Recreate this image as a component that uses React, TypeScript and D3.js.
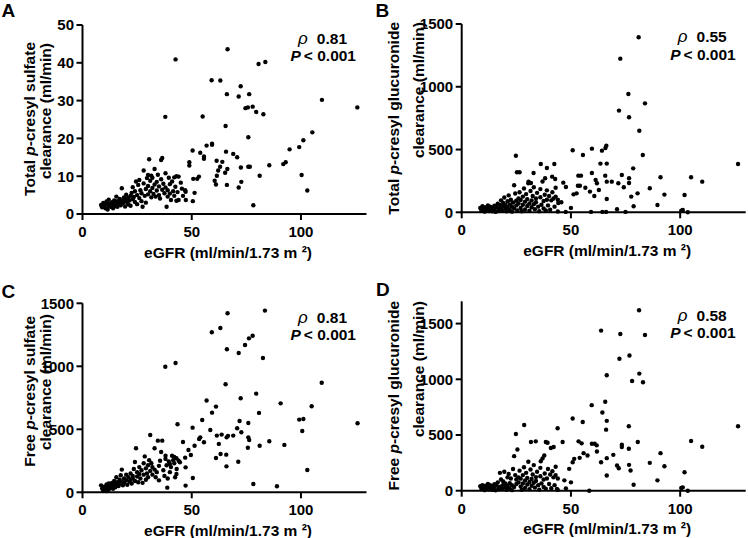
import React from "react";
import * as d3 from "d3";

// ---------- DATA ----------
const xTicks = [0, 50, 100];
const yTicksA = [0, 10, 20, 30, 40, 50];
const yTicksBCD = [0, 500, 1000, 1500];
const panelLetters = ["A", "B", "C", "D"];
const yTitles1 = ["Total p-cresyl sulfate", "Total p-cresyl glucuronide", "Free p-cresyl sulfate", "Free p-cresyl glucuronide"];
const rhoValues = ["0.81", "0.55", "0.81", "0.58"];
const pText = "< 0.001";
const xTitle = "eGFR (ml/min/1.73 m ²)";
const yTitle2 = "clearance (ml/min)";

// eGFR vs clearance pairs [eGFR, clearance]
const pointsA: [number, number][] = [
  [42.6, 40.9], [66.4, 43.6], [80.6, 39.7], [83.7, 40.2], [37.9, 25.7], [59.1, 35.4], [63.1, 35.3], [66.1, 31.7],
  [72.4, 33.8], [71.5, 31.1], [76.3, 31.7], [74.6, 28.0], [75.7, 28.2], [77.9, 28.4], [79.5, 27.0], [82.8, 26.4],
  [109.6, 30.2], [125.8, 28.2], [75.9, 20.3], [65.5, 23.3], [55.0, 25.8], [105.2, 21.6], [101.1, 19.5], [99.2, 17.7],
  [94.8, 17.1], [93.0, 13.7], [91.9, 13.2], [85.5, 12.9], [100.3, 10.3], [102.9, 6.2], [78.2, 2.3], [81.1, 10.1],
  [75.9, 12.5], [76.6, 12.5], [72.5, 12.3], [72.7, 8.5], [71.5, 7.0], [69.0, 15.9], [70.8, 15.0], [65.7, 16.5],
  [66.3, 11.9], [65.3, 10.9], [66.1, 7.7], [61.1, 7.8], [60.5, 8.8], [61.5, 10.1], [62.1, 11.5], [63.0, 12.5],
  [64.0, 13.8], [61.4, 14.1], [59.3, 18.3], [59.3, 18.6], [56.8, 18.1], [55.6, 15.2], [55.6, 14.6], [53.9, 16.2],
  [50.4, 16.8], [48.9, 13.7], [48.9, 12.8], [53.3, 9.9], [52.5, 9.3], [50.7, 9.3], [51.3, 5.6], [50.5, 3.4],
  [47.3, 3.7], [47.2, 5.9], [47.0, 6.3],
  [8.5, 2.4], [9, 1.8], [9.5, 2.9], [10, 2.2], [10.5, 1.5], [11, 3.3], [11, 2.6], [11.5, 1.2], [12, 2.0], [12, 3.8],
  [12.5, 2.7], [13, 1.9], [13.5, 3.1], [14, 2.4], [14, 1.5], [14.5, 3.6], [15, 2.9], [15, 2.1],
  [15.5, 4.6], [16, 3.4], [16, 1.9], [16.5, 2.7], [17, 4.0], [17, 3.1], [17.5, 2.3], [18, 3.6], [18, 6.8], [18.5, 2.9],
  [19, 4.4], [19, 3.3], [19.5, 2.0], [20, 3.8], [20, 5.1], [20.5, 3.0], [21, 4.3], [21, 2.5], [21.5, 3.6], [22, 4.8], [22, 2.2],
  [22.5, 5.6], [23, 3.9], [23, 7.1], [23.5, 4.5], [24, 3.2], [24, 6.0], [24.5, 8.6], [25, 5.0], [25, 2.6], [25.5, 7.7],
  [26, 4.2], [26, 9.0], [26.5, 6.3], [27, 3.4], [27, 5.5], [27.5, 1.9], [28, 8.1], [28, 11.5], [28.5, 4.8], [29, 6.6],
  [29, 3.0], [29.5, 9.5], [30, 5.2], [30, 7.4], [30, 10.3],
  [30.5, 14.5], [31, 6.0], [31, 8.8], [31.5, 4.4], [31.5, 10.1], [32, 6.9], [32, 9.6], [32.5, 5.3], [33, 7.8], [33, 11.9],
  [33.5, 4.6], [34, 8.5], [34, 6.2], [34.5, 10.4], [35, 5.0], [35, 7.3], [35.5, 4.1], [36, 9.2], [36, 14.3], [36.5, 6.4],
  [36.5, 14.8], [37, 8.0], [37.5, 5.5], [38, 10.8], [38, 7.0], [38.5, 1.9], [39, 4.6], [39, 6.3], [39.5, 9.6], [40, 5.4], [40, 7.9],
  [40.5, 3.7], [41, 8.6], [41.5, 6.0], [42, 9.7], [42, 4.8], [42.5, 7.2], [43, 10.0], [43, 3.5], [43.5, 5.8], [44, 9.9],
  [44, 3.7], [45, 8.3], [45.5, 6.7], [46, 4.8],
];

const pointsB: [number, number][] = [
  [81.0, 1394], [72.6, 1224], [76.3, 942], [83.9, 868], [72.0, 810], [76.6, 757], [81.3, 650], [82.9, 457],
  [126.5, 385], [50.8, 494], [55.5, 457], [59.6, 507], [64.2, 491], [66.2, 531], [65.8, 512], [24.8, 451],
  [39.0, 353], [42.4, 385], [36.2, 385], [32.9, 313], [25.3, 319], [26.5, 319], [30.6, 244], [31.7, 234],
  [38.2, 271], [41.4, 284], [42.8, 265], [46.5, 236], [47.7, 202], [51.2, 143], [52.6, 151], [53.2, 212],
  [54.1, 212], [53.4, 292], [54.6, 292], [56.6, 196], [58.7, 165], [59.6, 313], [61.3, 258], [61.9, 231],
  [60.7, 130], [62.8, 178], [63.5, 388], [66.4, 388], [65.7, 292], [66.4, 244], [68.7, 244], [66.4, 106],
  [71.7, 231], [73.3, 297], [74.2, 199], [76.6, 271], [76.6, 234], [77.6, 125], [78.5, 350], [80.5, 151],
  [78.7, 48], [71.1, 24], [75.0, 3], [64.4, 3], [66.1, 3], [59.2, 3], [86.1, 191], [91.0, 279], [89.6, 58],
  [92.8, 141], [100.5, 13], [101.2, 19], [102.0, 138], [103.5, 0], [105.0, 279], [110.1, 244], [50.0, 35],
  [45.6, 80], [44.2, 74], [47.6, 3],
  [8.5, 35], [9, 12], [9.5, 48], [10, 22], [10.5, 5], [11, 40], [11.5, 18], [12, 55], [12, 28], [12.5, 10],
  [13, 45], [13.5, 30], [14, 8], [14, 38], [15, 52], [15, 20], [15.5, 3], [16, 42], [16.5, 68], [17, 25],
  [17, 10], [17.5, 58], [18, 95], [18, 35], [18.5, 14], [19, 75], [19, 48], [19.5, 118], [20, 28], [20, 60],
  [20.5, 8], [21, 88], [21, 40], [21.5, 135], [22, 62], [22, 18], [22.5, 100], [23, 45], [23, 5], [23.5, 78],
  [24, 215], [24, 30], [24.5, 150], [25, 92], [25, 55], [25.5, 15], [26, 110], [26, 70], [26.5, 160], [27, 35],
  [27, 98], [27.5, 8], [28, 125], [28, 60], [28.5, 190], [29, 85], [29, 22], [29.5, 145], [30, 50], [30, 105],
  [30.5, 232], [31, 70], [31, 12], [31.5, 170], [32, 95], [32, 40], [32.5, 130], [33, 65], [33, 200], [33.5, 25],
  [34, 110], [34, 80], [34.5, 155], [35, 45], [35.5, 8], [36, 120], [36, 185], [36.5, 60], [37, 245], [37.5, 90],
  [37.5, 30], [38, 140], [38.5, 15], [39, 100], [39, 175], [39.5, 55], [40, 130], [40.5, 20], [41, 95], [41.5, 160],
  [42, 110], [42.5, 45], [43, 195], [43, 125], [44, 6], [44, 100],
];

const pointsC: [number, number][] = [
  [66.4, 1421], [83.5, 1442], [59.2, 1270], [63.1, 1304], [76.2, 1222], [77.9, 1243], [74.4, 1169], [71.5, 1106],
  [66.1, 1135], [82.6, 1066], [42.6, 1026], [37.9, 997], [109.5, 870], [65.5, 857], [79.5, 783], [72.4, 746],
  [56.8, 728], [90.7, 706], [104.9, 683], [61.1, 680], [59.3, 632], [80.8, 630], [99.2, 577], [101.1, 582],
  [100.6, 487], [125.9, 548], [71.9, 566], [75.9, 550], [54.8, 574], [43.5, 540], [50.4, 513], [58.5, 495],
  [70.8, 508], [72.7, 476], [69.0, 450], [66.0, 436], [66.6, 448], [61.5, 450], [63.7, 458], [53.9, 436],
  [53.4, 423], [55.6, 397], [46.0, 399], [75.9, 436], [76.3, 415], [75.7, 354], [85.5, 405], [81.1, 370],
  [92.4, 376], [62.4, 384], [63.2, 304], [61.1, 272], [65.8, 299], [65.9, 206], [71.3, 243], [102.9, 177],
  [78.2, 66], [89.0, 48], [47.2, 53], [38.8, 37], [50.5, 114], [51.3, 370], [49.6, 296], [48.5, 336],
  [47.0, 275], [47.2, 198], [44.6, 238], [40.0, 225], [43.1, 185], [42.4, 119],
  [8.5, 55], [9, 30], [9.5, 15], [10, 45], [10.5, 25], [11, 62], [11, 10], [11.5, 38], [12, 70], [12, 20],
  [12.5, 50], [13, 35], [13.5, 75], [14, 55], [14, 28], [14.5, 90], [15, 62], [15, 40], [15.5, 120], [16, 80],
  [16.5, 50], [17, 100], [17, 65], [17.5, 135], [18, 85], [18, 180], [18.5, 55], [19, 110], [19, 75], [20, 95],
  [20, 140], [20.5, 60], [21, 120], [21.5, 85], [22, 150], [22, 100], [22.5, 70], [23, 130], [23, 110], [23.5, 185],
  [24, 90], [24, 240], [24.5, 350], [25, 125], [25, 160], [25.5, 80], [26, 145], [26, 200], [26.5, 110], [27, 175],
  [27.5, 75], [28, 230], [28, 140], [28.5, 285], [29, 100], [29, 190], [29.5, 150], [30, 215], [30, 120], [30.5, 255],
  [31, 455], [31, 170], [31.5, 230], [32, 140], [32, 200], [33, 180], [33, 350], [33.5, 120], [34, 160], [34.5, 410],
  [35, 210], [35, 95], [35.5, 250], [36, 320], [36.5, 410], [37, 175], [37.5, 130], [38, 265], [38, 290], [38.5, 215],
  [39, 110], [39.5, 245], [40, 160], [40.5, 200], [41, 290], [41.5, 255], [42, 230], [42, 280], [43, 270], [43, 145],
  [44, 250],
];

const pointsD: [number, number][] = [
  [81.2, 1620], [63.8, 1437], [72.6, 1407], [83.9, 1398], [76.8, 1214], [72.2, 1184], [81.3, 1051], [78.0, 985],
  [83.0, 973], [66.4, 1036], [59.5, 768], [65.7, 798], [64.4, 702], [66.4, 627], [126.5, 578], [76.5, 578],
  [50.8, 648], [55.4, 617], [43.9, 560], [24.8, 509], [28.6, 590], [66.1, 548], [105.0, 446], [110.1, 395],
  [91.0, 337], [92.8, 220], [86.1, 250], [89.6, 93], [102.0, 166], [100.5, 24], [101.2, 30], [103.5, 0],
  [80.6, 437], [78.7, 54], [76.6, 232], [77.3, 181], [76.5, 376], [73.3, 413], [73.3, 392], [71.1, 226],
  [71.9, 202], [69.4, 322], [66.4, 292], [66.4, 136], [63.8, 256], [60.9, 422], [61.8, 407], [61.9, 352],
  [59.6, 422], [58.4, 0], [55.8, 337], [57.6, 316], [53.5, 443], [54.9, 425], [54.0, 295], [50.8, 256],
  [51.5, 286], [50.0, 75], [49.2, 196], [47.0, 93], [46.2, 437], [40.8, 383], [42.1, 392], [38.5, 437],
  [39.3, 431], [37.8, 316], [36.2, 265], [33.9, 443], [31.7, 437], [47.7, 21], [43.6, 15],
  [8.5, 40], [9, 15], [9.5, 50], [10, 25], [10.5, 5], [11, 45], [11.5, 20], [12, 60], [12, 32], [12.5, 10],
  [13, 50], [13.5, 35], [14, 8], [14, 42], [15, 58], [15, 22], [15.5, 3], [16, 48], [16.5, 75], [17, 28],
  [17, 12], [17.5, 160], [18, 100], [18, 38], [18.5, 15], [19, 82], [19, 52], [19.5, 170], [20, 30], [20, 65],
  [20.5, 8], [21, 120], [21, 42], [21.5, 150], [22, 68], [22, 20], [22.5, 110], [23, 50], [23, 5], [23.5, 195],
  [24, 310], [24, 33], [24.5, 140], [25, 100], [25, 60], [25.5, 370], [26, 120], [26, 75], [26.5, 180], [27, 38],
  [27, 108], [27.5, 8], [28, 140], [28, 65], [28.5, 210], [29, 92], [29, 25], [29.5, 160], [30, 55], [30, 115],
  [30.5, 260], [31, 78], [31, 14], [31.5, 190], [32, 105], [32, 45], [32.5, 145], [33, 72], [33, 230], [33.5, 28],
  [34, 122], [34, 88], [34.5, 170], [35, 50], [35.5, 10], [36, 130], [36, 205], [36.5, 66], [37, 290], [37.5, 100],
  [37.5, 33], [38, 155], [38.5, 17], [39, 110], [39.5, 195], [40, 60], [40.5, 145], [41, 22], [41.5, 175], [42, 120],
  [42.5, 50], [43, 215], [43, 140], [44, 7], [44, 110],
];

// ---------- LAYOUT ----------
const FONT = "'Liberation Sans', Arial, Helvetica, sans-serif";

type Layout = {
  left: number; right: number; top: number; bottom: number; yMax: number;
  letterX: number; letterY: number;
  t1X: number; t2X: number; t1End: number; t2End: number;
  statX: number; rhoY: number; pY: number;
};

const layouts: Layout[] = [
  { left: 82.5, right: 366.5, top: 25, bottom: 214, yMax: 50, letterX: 1.5, letterY: 17, t1X: 35, t2X: 50.5, t1End: 42, t2End: 43, statX: 356, rhoY: 43.5, pY: 60.5 },
  { left: 461.7, right: 745.7, top: 24, bottom: 212.3, yMax: 1500, letterX: 375.5, letterY: 17, t1X: 399, t2X: 424, t1End: 22, t2End: 22, statX: 735.7, rhoY: 42, pY: 59.5 },
  { left: 82.5, right: 366.5, top: 303.3, bottom: 492.3, yMax: 1500, letterX: 1.5, letterY: 297.5, t1X: 35, t2X: 50.5, t1End: 316, t2End: 314, statX: 356, rhoY: 322.5, pY: 339.5 },
  { left: 461.7, right: 745.7, top: 301.3, bottom: 490.7, yMax: 1700, letterX: 376, letterY: 296, t1X: 399, t2X: 424, t1End: 301, t2End: 301, statX: 735.7, rhoY: 321, pY: 338 },
];

const allPoints = [pointsA, pointsB, pointsC, pointsD];
const allYTicks = [yTicksA, yTicksBCD, yTicksBCD, yTicksBCD];

function TitleLine({ text, x, y }: { text: string; x: number; y: number }) {
  const idx = text.indexOf("p-cresyl");
  if (idx < 0) {
    return (
      <text transform={`translate(${x},${y}) rotate(-90)`} textAnchor="end">{text}</text>
    );
  }
  return (
    <text transform={`translate(${x},${y}) rotate(-90)`} textAnchor="end">
      {text.slice(0, idx)}
      <tspan fontStyle="italic">p</tspan>
      {text.slice(idx + 1)}
    </text>
  );
}

function Panel({ i }: { i: number }) {
  const L = layouts[i];
  const x = d3.scaleLinear().domain([0, 130]).range([L.left, L.right]);
  const y = d3.scaleLinear().domain([0, L.yMax]).range([L.bottom, L.top]);
  const pts = allPoints[i];
  const yt = allYTicks[i];
  const cx = (L.left + L.right) / 2 + 3.5;
  return (
    <g fontFamily={FONT} fontWeight="bold" fill="#000">
      <text x={L.letterX} y={L.letterY} fontSize={19}>{panelLetters[i]}</text>
      <line x1={L.left} x2={L.left} y1={L.top} y2={L.bottom + 1} stroke="#000" strokeWidth={2} />
      <line x1={L.left - 1} x2={L.right} y1={L.bottom} y2={L.bottom} stroke="#000" strokeWidth={2} />
      {yt.map((t) => (
        <g key={"y" + t}>
          <line x1={L.left - 6} x2={L.left} y1={y(t)} y2={y(t)} stroke="#000" strokeWidth={2} />
          <text x={L.left - 8.5} y={y(t)} dy="0.36em" textAnchor="end" fontSize={15}>{t}</text>
        </g>
      ))}
      {xTicks.map((t) => (
        <g key={"x" + t}>
          <line x1={x(t)} x2={x(t)} y1={L.bottom} y2={L.bottom + 6} stroke="#000" strokeWidth={2} />
          <text x={x(t)} y={L.bottom + 23} textAnchor="middle" fontSize={15}>{t}</text>
        </g>
      ))}
      <text x={cx} y={L.bottom + 43.5} textAnchor="middle" fontSize={15.5}>{xTitle}</text>
      <g fontSize={15.5}>
        <TitleLine text={yTitles1[i]} x={L.t1X} y={L.t1End} />
        <TitleLine text={yTitle2} x={L.t2X} y={L.t2End} />
      </g>
      <text x={L.statX - 9} y={L.rhoY} textAnchor="end" fontSize={15.5}>
        <tspan fontStyle="italic" fontWeight="normal" fontSize={17}>ρ</tspan>
        <tspan dx={9}>{rhoValues[i]}</tspan>
      </text>
      <text x={L.statX} y={L.pY} textAnchor="end" fontSize={15.5}>
        <tspan fontStyle="italic">P</tspan>
        <tspan dx={3}>{pText}</tspan>
      </text>
      {pts.map((p, k) => (
        <circle key={k} cx={x(p[0])} cy={y(p[1])} r={2.2} fill="#000" />
      ))}
    </g>
  );
}

export default function App() {
  return (
    <svg width={748} height={538} style={{ position: "absolute", left: 0, top: 0, background: "#fff" }}>
      <rect width={748} height={538} fill="#fff" />
      {[0, 1, 2, 3].map((i) => <Panel key={i} i={i} />)}
    </svg>
  );
}
